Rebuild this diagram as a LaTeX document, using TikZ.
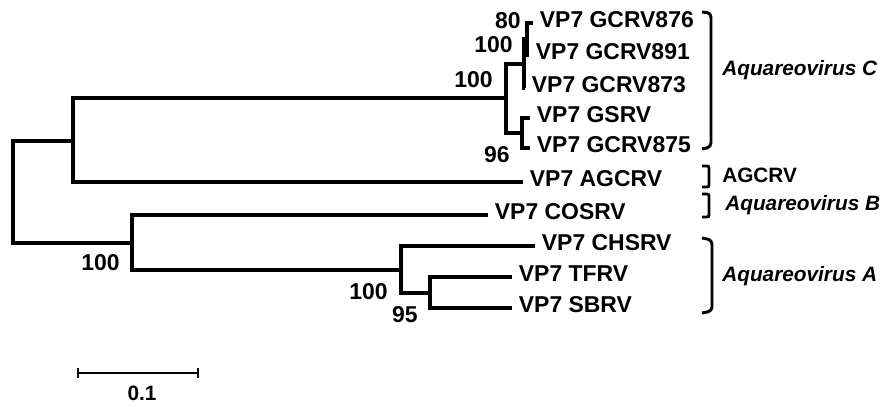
\documentclass[tikz,border=0pt]{standalone}
\usepackage{fontspec}
\setmainfont{Liberation Sans}
\usetikzlibrary{positioning}
\tikzstyle{every picture} = [x=0.75pt, y=-0.75pt]
\tikzstyle{branch} = [line width=3pt, to path={|- (\tikztotarget)}]
\tikzstyle{taxon} = [inner sep=0pt, font=\fontsize{17.2}{20}\selectfont\bfseries]
\tikzstyle{boot} = [anchor=east, inner sep=0pt, font=\fontsize{17.2}{20}\selectfont\bfseries]
\tikzstyle{group} = [anchor=base west, inner sep=0pt, font=\fontsize{15.6}{18}\selectfont\bfseries\itshape]
\tikzstyle{bracket} = [line width=2.2pt, rounded corners=3pt]

\begin{document}
\begin{tikzpicture}
            \useasboundingbox (0,0) rectangle (889,407);
            % internal nodes
            \coordinate (node root) at (13, 192);
            \coordinate (node up) at (73, 140.5);
            \coordinate (node C) at (506, 98);
            \coordinate (node 100) at (524, 63.5);
            \coordinate (node 80) at (527, 39);
            \coordinate (node 96) at (522, 133);
            \coordinate (node low) at (132, 243);
            \coordinate (node A) at (401, 269.5);
            \coordinate (node 95) at (430, 292.5);
            % tips
            \coordinate (tip 876) at (533, 23);
            \coordinate (tip 891) at (529, 55);
            \coordinate (tip 873) at (525, 88);
            \coordinate (tip GSRV) at (530, 118);
            \coordinate (tip 875) at (530, 148);
            \coordinate (tip AGCRV) at (523, 182);
            \coordinate (tip COSRV) at (488, 215);
            \coordinate (tip CHSRV) at (535, 246);
            \coordinate (tip TFRV) at (512, 277);
            \coordinate (tip SBRV) at (512, 308);

            \path (node root) edge[branch] (node up)
                  (node root) edge[branch] (node low)
                  (node up) edge[branch] (node C)
                  (node up) edge[branch] (tip AGCRV)
                  (node C) edge[branch] (node 100)
                  (node C) edge[branch] (node 96)
                  (node 100) edge[branch] (node 80)
                  (node 100) edge[branch] (tip 873)
                  (node 80) edge[branch] (tip 876)
                  (node 80) edge[branch] (tip 891)
                  (node 96) edge[branch] (tip GSRV)
                  (node 96) edge[branch] (tip 875)
                  (node low) edge[branch] (tip COSRV)
                  (node low) edge[branch] (node A)
                  (node A) edge[branch] (tip CHSRV)
                  (node A) edge[branch] (node 95)
                  (node 95) edge[branch] (tip TFRV)
                  (node 95) edge[branch] (tip SBRV);

            \node (taxon 876) [taxon, base right=5pt of tip 876, yshift=-3.5pt] {VP7 GCRV876};
            \node (taxon 891) [taxon, base right=5pt of tip 891, yshift=-3.5pt] {VP7 GCRV891};
            \node (taxon 873) [taxon, base right=5pt of tip 873, yshift=-3.5pt] {VP7 GCRV873};
            \node (taxon GSRV) [taxon, base right=5pt of tip GSRV, yshift=-3.5pt] {VP7 GSRV};
            \node (taxon 875) [taxon, base right=5pt of tip 875, yshift=-3.5pt] {VP7 GCRV875};
            \node (taxon AGCRV) [taxon, base right=5pt of tip AGCRV, yshift=-3.5pt] {VP7 AGCRV};
            \node (taxon COSRV) [taxon, base right=5pt of tip COSRV, yshift=-3.5pt] {VP7 COSRV};
            \node (taxon CHSRV) [taxon, base right=5pt of tip CHSRV, yshift=-3.5pt] {VP7 CHSRV};
            \node (taxon TFRV) [taxon, base right=5pt of tip TFRV, yshift=-3.5pt] {VP7 TFRV};
            \node (taxon SBRV) [taxon, base right=5pt of tip SBRV, yshift=-3.5pt] {VP7 SBRV};

            % bootstrap values
            \node (boot 80) at (521, 21) [boot] {80};
            \node (boot 100a) at (513, 45) [boot] {100};
            \node (boot 100b) at (493, 80) [boot] {100};
            \node (boot 96) at (510, 155) [boot] {96};
            \node (boot 100c) at (120, 263) [boot] {100};
            \node (boot 100d) at (388, 292) [boot] {100};
            \node (boot 95) at (418, 315) [boot] {95};

            % clade brackets
            \draw[bracket] (702, 12) -- (711, 13) -- (711, 147) -- (702, 149);
            \draw[bracket, rounded corners=1.5pt] (702, 166) -- (709, 166) -- (709, 187) -- (702, 187);
            \draw[bracket, rounded corners=1.5pt] (702, 194) -- (709, 194) -- (709, 217) -- (702, 217);
            \draw[bracket] (702, 238) -- (712, 240) -- (712, 311) -- (702, 313);
            \node (group C) at (722, 75) [group] {Aquareovirus C};
            \node (group AGCRV) at (722, 182) [group, font=\fontsize{15.6}{18}\selectfont\bfseries] {AGCRV};
            \node (group B) at (725, 210) [group] {Aquareovirus B};
            \node (group A) at (722, 281) [group] {Aquareovirus A};

            % scale bar
            \coordinate (bar left) at (78, 373);
            \coordinate (bar right) at (198, 373);
            \draw[line width=1.5pt] (bar left) -- (bar right);
            \draw[line width=1.5pt] ([yshift=4pt]bar left) -- ([yshift=-4pt]bar left);
            \draw[line width=1.5pt] ([yshift=4pt]bar right) -- ([yshift=-4pt]bar right);
            \node (bar label) at (142, 393) [inner sep=0pt, font=\fontsize{15.6}{18}\selectfont\bfseries] {0.1};
        \end{tikzpicture}
\end{document}
